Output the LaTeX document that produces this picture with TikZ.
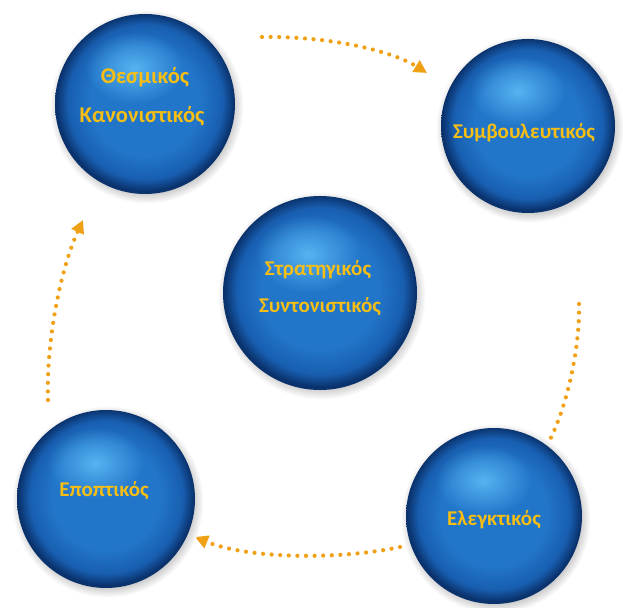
\documentclass[tikz,border=0pt]{standalone}
\usepackage{fontspec}
\setmainfont{Carlito}
\usetikzlibrary{arrows.meta,calc,fadings}
\definecolor{sphHL}{RGB}{100,195,250}
\definecolor{sphBody}{RGB}{34,118,202}
\definecolor{sphMid}{RGB}{24,94,176}
\definecolor{sphEdge}{RGB}{10,50,108}
\definecolor{lblgold}{RGB}{247,190,20}
\definecolor{dotorange}{RGB}{240,160,20}
\pgfdeclareradialshading{sphbase}{\pgfpoint{0bp}{1bp}}{color(0bp)=(sphBody); color(15bp)=(sphBody); color(21.5bp)=(sphMid); color(24.7bp)=(sphEdge); color(50bp)=(sphEdge)}
\pgfdeclareradialshading{halo}{\pgfpointorigin}{color(0bp)=(black!30); color(21bp)=(black!30); color(25bp)=(white); color(50bp)=(white)}
\tikzfading[name=hlfade, inner color=transparent!20, outer color=transparent!100]
\newcommand{\drawsphere}[4]{%
  \coordinate (#1) at (#2,#3);
  \shade[shading=halo] ($(#1)+(1.5,-2.5)$) circle ({(#4+7)*1pt});
  \shade[shading=sphbase] (#1) circle ({#4*1pt});
  \fill[sphHL, path fading=hlfade] ($(#1)+({-0.12*#4},{0.40*#4})$) ellipse ({0.55*#4*1pt} and {0.40*#4*1pt});
}
\begin{document}
\begin{tikzpicture}[x=1pt,y=1pt,
  lbl/.style={text=lblgold, inner sep=0pt, font=\bfseries\fontsize{21}{24}\selectfont},
  lblbig/.style={lbl, font=\bfseries\fontsize{22.5}{25}\selectfont},
  flow/.style={draw=dotorange, line width=4.2pt, line cap=round, dash pattern=on 0pt off 8.6pt},
  tipflow/.style={flow, -{Triangle[length=13pt,width=13pt]}}]
\fill[white] (0,0) rectangle (623,607);
\useasboundingbox (0,0) rectangle (623,607);
% connectors
\coordinate (a1s) at (262,570); \coordinate (a1e) at (427,534);
\coordinate (a2s) at (579,303); \coordinate (a2e) at (545,158);
\coordinate (a3s) at (400,60);  \coordinate (a3e) at (195,70);
\coordinate (a4s) at (48,207);  \coordinate (a4e) at (83,387);
\draw[tipflow] (a1s) .. controls +(68,1) and +(-35,22) .. (a1e);
\draw[flow] (a2s) .. controls +(1,-46) and +(21,36) .. (a2e);
\draw[tipflow] (a3s) .. controls +(-60,-13) and +(53,-22) .. (a3e);
\draw[tipflow] (a4s) .. controls +(-2,60) and +(-22,-48) .. (a4e);
% spheres
\drawsphere{sTL}{145}{503}{90}
\drawsphere{sTR}{528}{481}{87}
\drawsphere{sC}{320}{314}{97}
\drawsphere{sBL}{106}{108}{89}
\drawsphere{sBR}{494}{91}{88}
% labels
\node[lblbig] (t1a) at (145,530) {Θεσμικός};
\node[lblbig] (t1b) at (142,491) {Κανονιστικός};
\node[lbl] (t2) at (524,474) {Συμβουλευτικός};
\node[lbl] (t3a) at (318,337) {Στρατηγικός};
\node[lbl] (t3b) at (320,300) {Συντονιστικός};
\node[lbl] (t4) at (104,116) {Εποπτικός};
\node[lbl] (t5) at (494,87) {Ελεγκτικός};
\end{tikzpicture}
\end{document}
